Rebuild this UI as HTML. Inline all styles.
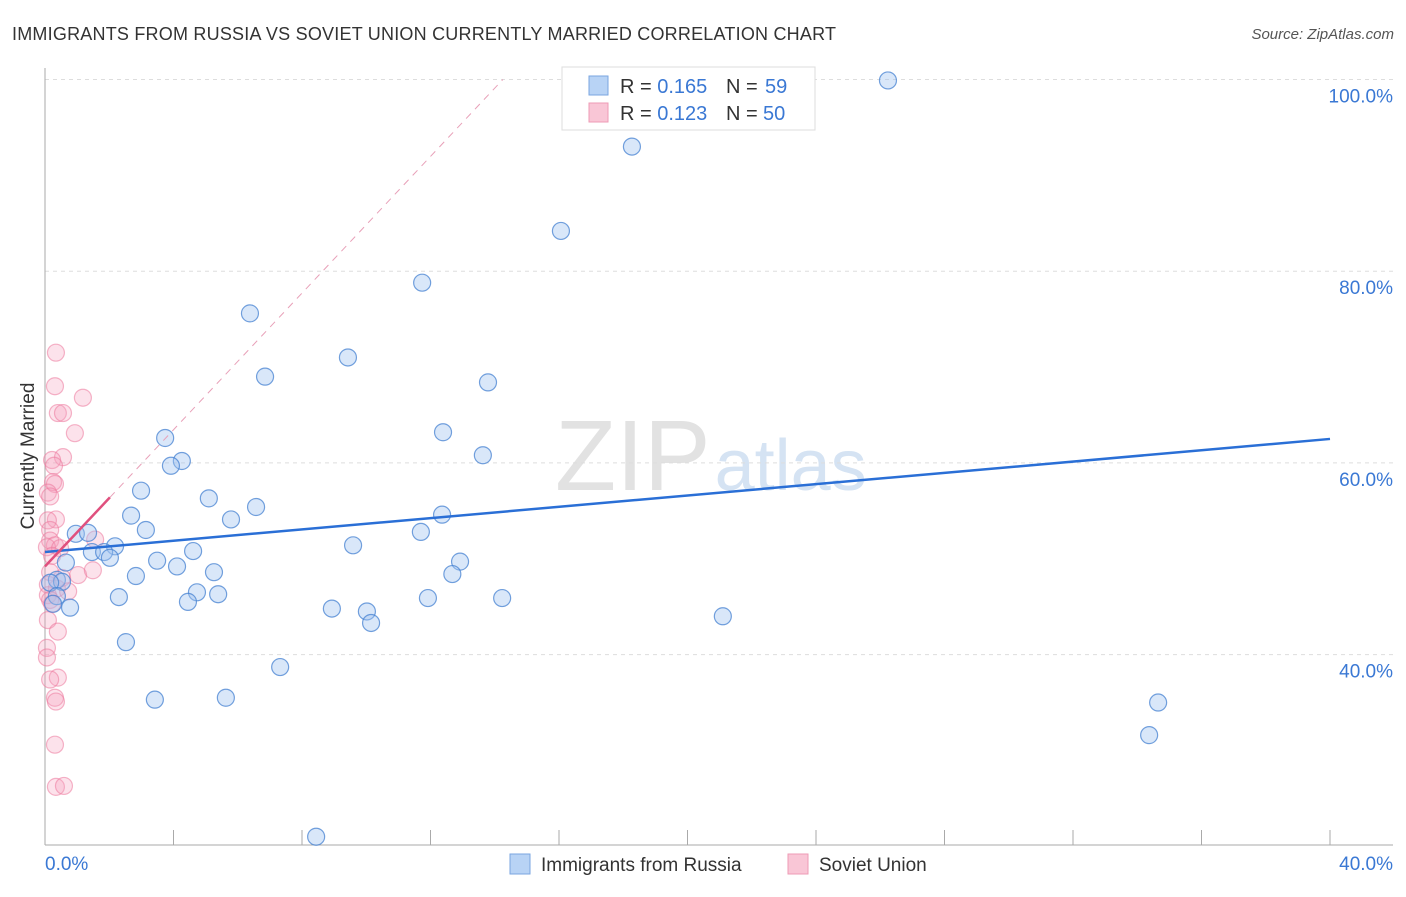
<!DOCTYPE html>
<html><head><meta charset="utf-8"><style>
body{margin:0;background:#fff;font-family:"Liberation Sans",sans-serif;}
svg text{font-family:"Liberation Sans",sans-serif;}
</style></head><body>
<svg id="chart" width="1406" height="892">
<text x="12" y="40" font-size="18" fill="#333" textLength="824">IMMIGRANTS FROM RUSSIA VS SOVIET UNION CURRENTLY MARRIED CORRELATION CHART</text>
<text x="1394" y="39" font-size="15" fill="#555" font-style="italic" text-anchor="end">Source: ZipAtlas.com</text>
<text x="555" y="490" font-size="100" fill="#e2e2e2" font-family="Liberation Serif">ZIP<tspan fill="#d5e3f3" font-family="Liberation Sans" font-size="72" dx="4">atlas</tspan></text>
<g id="grid"></g>
<g id="axes"></g>
<g id="pts"></g>
<g id="lines"></g>
<text transform="translate(34,456) rotate(-90)" font-size="19" fill="#333" text-anchor="middle">Currently Married</text>
<g>
<rect x="562" y="67" width="253" height="63" fill="#fff" stroke="#ddd"/>
<rect x="589" y="76" width="19" height="19" fill="#b8d3f5" stroke="#7aa6e0"/>
<rect x="589" y="103" width="19" height="19" fill="#f9c6d6" stroke="#ee9bb5"/>
<text x="620" y="93" font-size="20" fill="#333">R = <tspan fill="#3a78d4">0.165</tspan><tspan x="726">N = </tspan><tspan x="765" fill="#3a78d4">59</tspan></text>
<text x="620" y="120" font-size="20" fill="#333">R = <tspan fill="#3a78d4">0.123</tspan><tspan x="726">N = </tspan><tspan x="763" fill="#3a78d4">50</tspan></text>
</g>
<g>
<rect x="510" y="854" width="20" height="20" fill="#b8d3f5" stroke="#7aa6e0"/>
<text x="541" y="871" font-size="19" fill="#333">Immigrants from Russia</text>
<rect x="788" y="854" width="20" height="20" fill="#f9c6d6" stroke="#ee9bb5"/>
<text x="819" y="871" font-size="19" fill="#333">Soviet Union</text>
</g>
</svg>
<script>
const yTicks=[40,60,80,100];
const yTickLabels=["40.0%","60.0%","80.0%","100.0%"];
const xTickLabels=["0.0%","40.0%"];
const blueX=[26.24,18.27,16.06,11.74,6.38,9.43,6.85,13.79,3.74,12.39,4.26,3.92,13.63,2.99,5.10,6.57,2.68,5.79,3.14,12.36,11.70,0.96,1.34,9.59,2.18,1.46,1.84,4.61,2.02,3.49,12.92,4.11,0.65,5.26,2.83,12.68,0.37,0.53,0.16,4.73,5.39,2.30,0.37,11.92,14.23,4.45,0.25,0.78,8.93,10.02,10.15,21.10,2.52,7.32,3.42,5.63,34.65,34.37,8.44];
const blueY=[99.9,93.0,84.2,78.8,75.6,71.0,69.0,68.4,62.6,63.2,60.2,59.7,60.8,57.1,56.3,55.4,54.5,54.1,53.0,54.6,52.8,52.6,52.7,51.4,51.3,50.7,50.7,50.8,50.1,49.8,49.7,49.2,49.6,48.6,48.2,48.4,47.8,47.6,47.5,46.5,46.3,46.0,46.1,45.9,45.9,45.5,45.3,44.9,44.8,44.5,43.3,44.0,41.3,38.7,35.3,35.5,35.0,31.6,21.0];
const pinkX=[0.34,0.31,1.18,0.40,0.56,0.93,0.56,0.22,0.28,0.25,0.31,0.09,0.16,0.34,0.09,0.16,1.56,0.16,0.31,0.06,0.47,0.22,1.03,0.53,1.49,0.16,0.09,0.37,0.72,0.09,0.16,0.22,0.09,0.40,0.06,0.06,0.40,0.16,0.31,0.34,0.31,0.34,0.59];
const pinkY=[71.5,68.0,66.8,65.2,65.2,63.1,60.6,60.3,59.7,58.0,57.8,56.9,56.5,54.1,54.0,53.0,52.0,51.9,51.4,51.2,51.1,50.3,48.3,48.0,48.8,48.6,47.3,46.9,46.6,46.2,45.7,45.3,43.6,42.4,40.7,39.7,37.6,37.4,35.5,35.1,30.6,26.2,26.3];
const blueTrend=[50.7,62.5];
const pinkTrend=[49.2,56.4,2.02];
const NS="http://www.w3.org/2000/svg";
const xs=v=>45+v/40*1285;
const ys=v=>1038-v*9.585;
function mk(tag,attrs,parent){const e=document.createElementNS(NS,tag);for(const k in attrs)e.setAttribute(k,attrs[k]);document.getElementById(parent).appendChild(e);return e;}
yTicks.forEach((t,i)=>{
 const g=mk('line',{x1:45,x2:1393,y1:ys(t),y2:ys(t),stroke:'#ddd','stroke-dasharray':'4,4'},'grid');
 
 
 const l=mk('text',{x:1393,y:ys(t)+23,'font-size':19,fill:'#3a78d4','text-anchor':'end'},'grid');
 l.textContent=yTickLabels[i];
 
 
});
const ya=mk('line',{x1:45,x2:45,y1:68,y2:845,stroke:'#aaa'},'axes');


const xa=mk('line',{x1:45,x2:1393,y1:845,y2:845,stroke:'#aaa'},'axes');


for(let i=0;i<=10;i++){
 const t=mk('line',{x1:xs(i*4),x2:xs(i*4),y1:830,y2:845,stroke:'#aaa'},'axes');
 
 
}
[[0,'start',45],[40,'end',1393]].forEach((d,i)=>{
 const l=mk('text',{x:d[2],y:870,'font-size':19,fill:'#3a78d4','text-anchor':d[1]},'axes');
 l.textContent=xTickLabels[i];
 
 
});
pinkX.forEach((x,i)=>{
 const c=mk('circle',{cx:xs(x),cy:ys(pinkY[i]),r:8.5,fill:'rgba(246,160,188,0.3)',stroke:'rgba(236,120,156,0.55)','stroke-width':1.2},'pts');
 
 
});
blueX.forEach((x,i)=>{
 const c=mk('circle',{cx:xs(x),cy:ys(blueY[i]),r:8.5,fill:'rgba(160,196,240,0.4)',stroke:'rgba(70,130,210,0.75)','stroke-width':1.2},'pts');
 
 
});
const bl=mk('line',{x1:xs(0),y1:ys(blueTrend[0]),x2:xs(40),y2:ys(blueTrend[1]),stroke:'#2a6fd6','stroke-width':2.5},'lines');


const slope=(pinkTrend[1]-pinkTrend[0])/pinkTrend[2];
const xEnd=(100-pinkTrend[0])/slope;
const pd=mk('line',{x1:xs(pinkTrend[2]),y1:ys(pinkTrend[1]),x2:xs(xEnd),y2:ys(100),stroke:'#e8a0b8','stroke-width':1,'stroke-dasharray':'7,6'},'lines');


const pl=mk('line',{x1:xs(0),y1:ys(pinkTrend[0]),x2:xs(pinkTrend[2]),y2:ys(pinkTrend[1]),stroke:'#e0507e','stroke-width':2.5},'lines');


</script>
</body></html>
